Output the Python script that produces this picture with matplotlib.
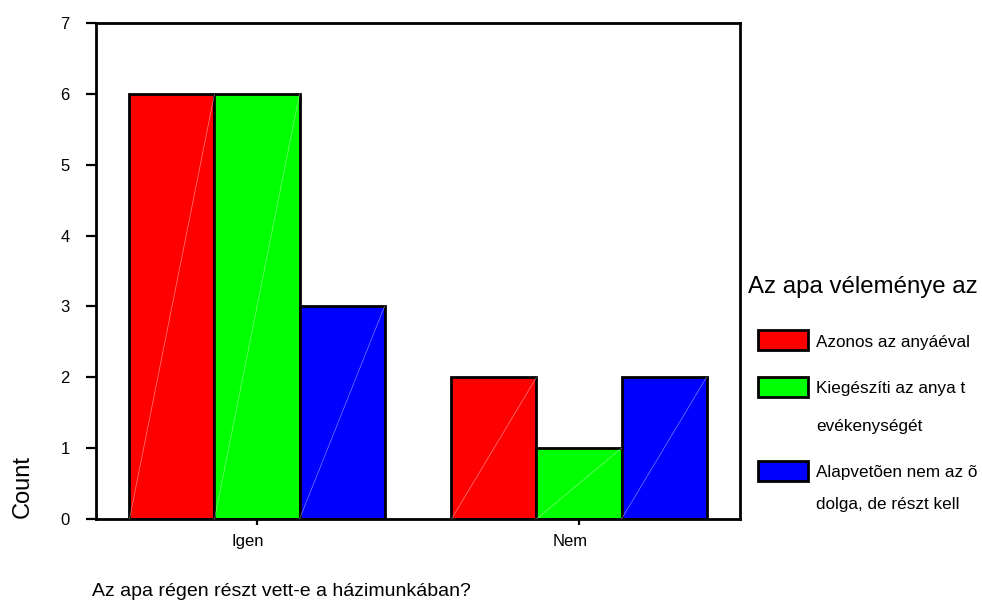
import matplotlib
matplotlib.use("Agg")
import matplotlib.pyplot as plt
import matplotlib.transforms as mtrans
from matplotlib.patches import Rectangle
import numpy as np

plt.rcParams['font.family'] = ['Liberation Sans', 'DejaVu Sans']

# adatok
kategoriak = ["Igen", "Nem"]
sorozatok = ["Azonos az anyáéval",
             "Kiegészíti az anya t\nevékenységét",
             "Alapvetõen nem az õ\ndolga, de részt kell"]
ertekek = [[6, 2],   # Azonos az anyáéval
           [6, 1],   # Kiegészíti ...
           [3, 2]]   # Alapvetõen ...
szinek = ["#ff0000", "#00ff00", "#0000ff"]

fig = plt.figure(figsize=(9.82, 6.05), dpi=100)
ax = fig.add_axes([96/982, 1 - 519/605, (740 - 96)/982, (519 - 23)/605])

x = np.arange(len(kategoriak))
w = 0.264
for i, (vals, c) in enumerate(zip(ertekek, szinek)):
    pos = x + (i - 1) * w
    ax.bar(pos, vals, width=w, color=c, edgecolor="black", linewidth=2.0, zorder=2)
    # vékony fehér átló az oszlopokon
    for p, v in zip(pos, vals):
        ax.plot([p - w/2, p + w/2], [0, v], color="white", lw=0.5, alpha=0.5, zorder=3)

ax.set_xlim(-0.5, 1.5)
ax.set_ylim(0, 7)
ax.set_yticks(range(8))
ax.set_xticks(x)
ax.set_xticklabels(kategoriak)
for sp in ax.spines.values():
    sp.set_linewidth(2)
ax.tick_params(axis="y", length=7, width=1.6, pad=12, labelsize=12)
ax.tick_params(axis="x", length=4, width=1.6, pad=7, labelsize=12)
off = mtrans.ScaledTranslation(-9/100, 0, fig.dpi_scale_trans)
for lab in ax.get_xticklabels():
    lab.set_transform(lab.get_transform() + off)

fig.text(23/982, 1 - 487/605, "Count", rotation=90, fontsize=17,
         ha="center", va="center")
fig.text(92/982, 1 - 591/605, "Az apa régen részt vett-e a házimunkában?",
         fontsize=14, ha="left", va="center")

# jelmagyarázat
fig.text(748/982, 1 - 287/605, "Az apa véleménye az", fontsize=17.3,
         ha="left", va="center")
patch_y = [340, 387, 471]
text_y = [[342], [388, 427], [472, 505]]
for lab, c, py, tys in zip(sorozatok, szinek, patch_y, text_y):
    fig.patches.append(Rectangle((758/982, 1 - (py + 10)/605), 50/982, 20/605,
                                 transform=fig.transFigure, facecolor=c,
                                 edgecolor="black", linewidth=2.0))
    for sor, ty in zip(lab.split("\n"), tys):
        fig.text(816/982, 1 - ty/605, sor, fontsize=12.3, ha="left", va="center")

fig.savefig("out.png", dpi=100)
